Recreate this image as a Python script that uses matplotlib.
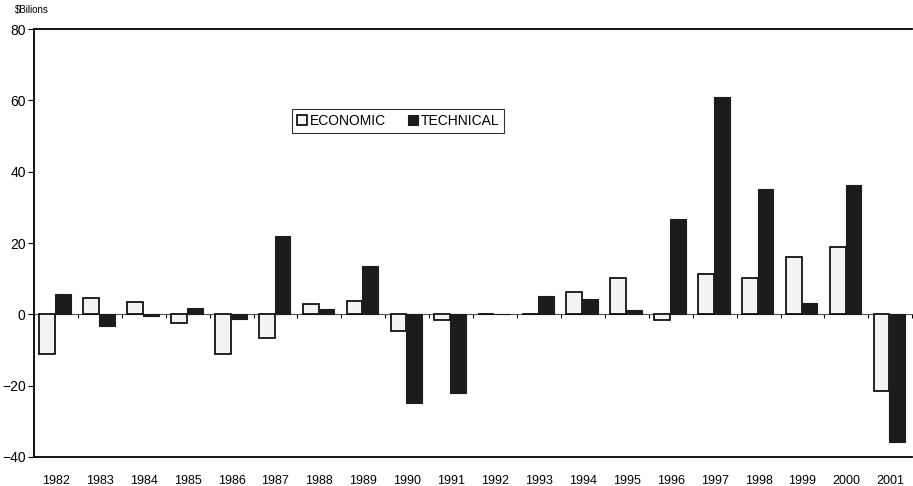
import numpy as np
import matplotlib.pyplot as plt

plt.rcParams['font.family'] = ['Liberation Sans', 'DejaVu Sans']

years = ['1982', '1983', '1984', '1985', '1986', '1987', '1988', '1989', '1990', '1991',
         '1992', '1993', '1994', '1995', '1996', '1997', '1998', '1999', '2000', '2001']
economic = [-11.0, 4.7, 3.5, -2.3, -11.2, -6.6, 2.8, 3.6, -4.7, -1.5,
            0.0, 0.2, 6.3, 10.2, -1.7, 11.3, 10.3, 16.1, 18.9, -21.6]
technical = [5.8, -3.3, -0.5, 1.9, -1.2, 22.0, 1.4, 13.5, -24.8, -22.0,
             0.0, 5.0, 4.2, 1.3, 26.8, 60.9, 35.1, 3.3, 36.4, -35.8]
y_ticks = [-40, -20, 0, 20, 40, 60, 80]

fig = plt.figure(figsize=(9.13, 4.86), dpi=100)
ax = fig.add_axes([0.0372, 0.0597, 0.962, 0.8806])

x = np.arange(len(years))
w = 0.36
ax.bar(x - w / 2 - 0.02, economic, w, color='#f3f3f3', edgecolor='black', linewidth=1.2,
       label='ECONOMIC', zorder=3)
ax.bar(x + w / 2 - 0.02, technical, w, color='#1c1c1c', edgecolor='#1c1c1c', linewidth=0.8,
       label='TECHNICAL', zorder=3)

ax.set_xlim(-0.5, len(years) - 0.5)
ax.set_ylim(-40, 80)
ax.set_yticks(y_ticks)
ax.tick_params(axis='y', direction='out', length=4, width=0.8, labelsize=10, pad=2)
ax.set_xticks(x)
ax.set_xticklabels(years)
ax.tick_params(axis='x', length=0, labelsize=9, pad=13)

ax.spines['right'].set_visible(False)
ax.spines['left'].set_linewidth(1.3)
ax.spines['bottom'].set_linewidth(1.3)
ax.spines['top'].set_linewidth(1.3)

# zero line with small ticks at the category boundaries
zero_pos = (0 - (-40)) / 120
sec = ax.secondary_xaxis(zero_pos)
sec.set_xticks(np.arange(-0.5, len(years), 1.0))
sec.set_xticklabels([])
sec.tick_params(direction='out', length=3, width=0.8)
sec.spines['bottom'].set_linewidth(0.8)
sec.spines['bottom'].set_color('#555555')

fig.text(0.016, 0.979, r'\$Bilions', fontsize=7, ha='left', va='center')

leg = ax.legend(loc='center', bbox_to_anchor=(398 / 913, 1 - 121 / 486),
                bbox_transform=fig.transFigure, ncol=2, fontsize=10, frameon=True,
                fancybox=False, handlelength=0.75, handleheight=0.75, handletextpad=0.15,
                columnspacing=1.6, borderpad=0.35, borderaxespad=0)
leg.get_frame().set_edgecolor('black')
leg.get_frame().set_linewidth(0.8)

fig.savefig('out.png', dpi=100)
